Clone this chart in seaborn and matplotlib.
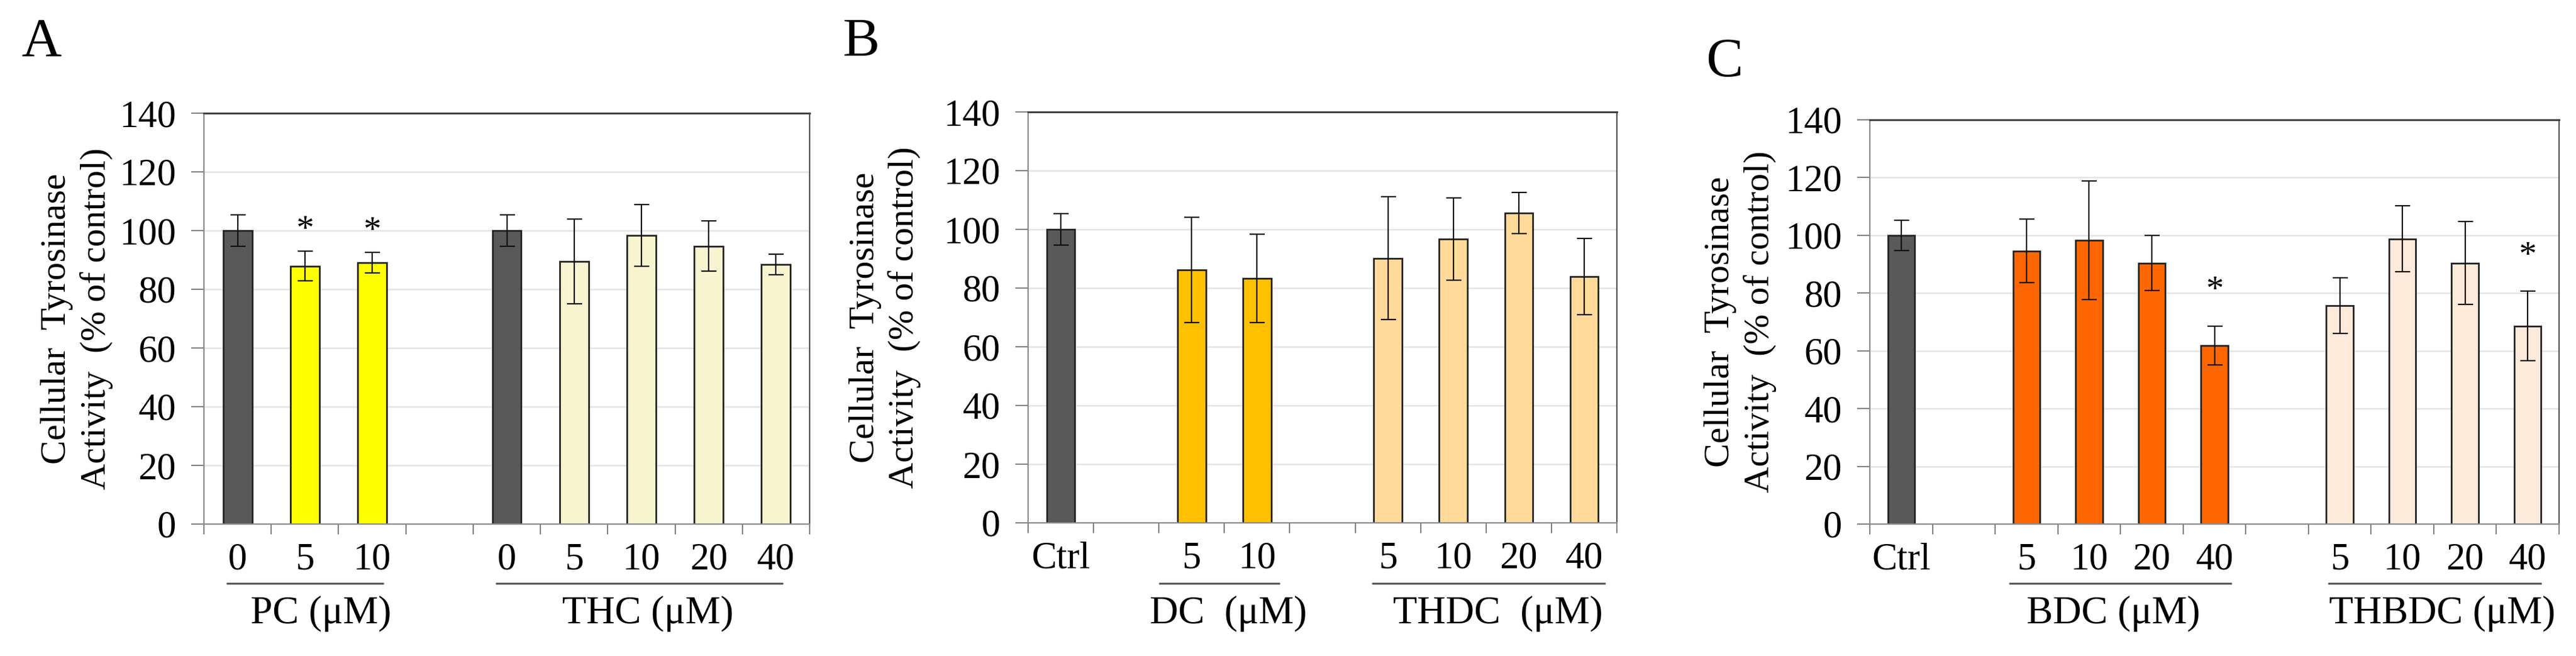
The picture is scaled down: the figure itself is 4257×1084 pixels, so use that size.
import numpy as np
import pandas as pd
import matplotlib
matplotlib.use("Agg")
import matplotlib.pyplot as plt
import matplotlib.transforms as mtransforms
import seaborn as sns

# ---- data ----
# panel A
pc_doses = ['0', '5', '10']
pc_mean = [100.0, 87.9, 89.0]
pc_sd = [5.3, 5.0, 3.5]
thc_doses = ['0', '5', '10', '20', '40']
thc_mean = [100.0, 89.5, 98.4, 94.7, 88.5]
thc_sd = [5.3, 14.5, 10.5, 8.5, 3.5]

# panel B
ctrl_mean = 100.0
ctrl_sd = 5.3
dc_doses = ['5', '10']
dc_mean = [86.2, 83.3]
dc_sd = [18.0, 15.0]
thdc_doses = ['5', '10', '20', '40']
thdc_mean = [90.2, 96.7, 105.6, 83.9]
thdc_sd = [21.0, 14.0, 7.0, 13.0]

# panel C
bdc_doses = ['5', '10', '20', '40']
bdc_mean = [94.6, 98.3, 90.4, 61.9]
bdc_sd = [11.0, 20.5, 9.5, 6.7]
thbdc_doses = ['5', '10', '20', '40']
thbdc_mean = [75.7, 98.8, 90.4, 68.6]
thbdc_sd = [9.7, 11.5, 14.3, 12.0]

# significance marks (group, dose)
stars = [('PC', '5'), ('PC', '10'), ('BDC', '40'), ('THBDC', '40')]

colors = {'ctrl': '#595959', 'PC': '#FFFF00', 'THC': '#F6F5CF',
          'DC': '#FFC000', 'THDC': '#FFDA9A', 'BDC': '#FF6600', 'THBDC': '#FDEADA'}

plt.rcParams['font.family'] = ['Liberation Serif', 'DejaVu Serif']
plt.rcParams['mathtext.default'] = 'regular'

W, H = 4257, 1084
fig = plt.figure(figsize=(W / 100, H / 100), dpi=100)


def px_axes(left, top, right, bottom):
    return fig.add_axes([left / W, 1 - bottom / H, (right - left) / W, (bottom - top) / H])


def build(groups):
    # groups: list of (group name, doses, means, sds, color key); None -> empty slot
    rows, order, ticklabels = [], [], []
    for g in groups:
        if g is None:
            order.append(f'gap{len(order)}')
            ticklabels.append('')
            continue
        name, doses, means, sds, ckey = g
        for d, m, s in zip(doses, means, sds):
            key = f'{name}|{d}'
            rows.append({'cat': key, 'val': m, 'sd': s, 'color': colors[ckey]})
            order.append(key)
            ticklabels.append(d)
    return pd.DataFrame(rows), order, ticklabels


def draw_panel(ax, df, order, ticklabels, underlines, ylab_x, star_gap):
    pal = dict(zip(df['cat'], df['color']))
    sns.barplot(data=df, x='cat', y='val', hue='cat', order=order, hue_order=list(df['cat']),
                palette=pal, saturation=1, legend=False, width=0.43, errorbar=None,
                edgecolor='#222222', linewidth=2, ax=ax, zorder=2)
    pos = [order.index(c) for c in df['cat']]
    ax.errorbar(pos, df['val'], yerr=df['sd'], fmt='none', ecolor='#111111',
                elinewidth=1.6, capsize=9, capthick=1.6, zorder=3)

    for grp, dose in stars:
        key = f'{grp}|{dose}'
        if key in order:
            r = df[df['cat'] == key].iloc[0]
            ax.text(order.index(key), r['val'] + r['sd'] + star_gap, '*', ha='center',
                    va='center', fontsize=42, zorder=4)

    ax.set_ylim(0, 140)
    ax.set_xlim(-0.5, len(order) - 0.5)
    ax.set_yticks(np.arange(0, 141, 20))
    ax.set_xticks(range(len(order)))
    ax.set_xticklabels(ticklabels)
    ax.set_xticks(np.arange(-0.5, len(order), 1.0), minor=True)
    ax.tick_params(axis='x', which='major', length=0, pad=22, labelsize=45)
    ax.tick_params(axis='x', which='minor', length=12, width=1.5, color='#808080', direction='out')
    ax.tick_params(axis='y', length=15, width=1.5, color='#808080', pad=18, labelsize=45,
                   direction='out')
    ax.set_xlabel('')
    ax.yaxis.grid(True, color='#e4e4e4', lw=1.8)
    ax.set_axisbelow(True)
    for s in ['left', 'bottom']:
        ax.spines[s].set_color('#8a8a8a')
        ax.spines[s].set_linewidth(1.6)
    ax.spines['top'].set_color('#404040')
    ax.spines['top'].set_linewidth(2.2)
    ax.spines['right'].set_color('#505050')
    ax.spines['right'].set_linewidth(1.6)

    ax.set_ylabel('Cellular  Tyrosinase\nActivity  (% of control)', fontsize=43,
                  linespacing=1.25, va='center')
    ax.yaxis.set_label_coords(ylab_x, 0.5)

    tr = mtransforms.blended_transform_factory(ax.transData, fig.transFigure)
    for label, x0, x1, xc in underlines:
        ax.plot([x0, x1], [1 - 964 / H, 1 - 964 / H], color='#595959', lw=2.3,
                transform=tr, clip_on=False, solid_capstyle='butt')
        ax.text(xc, 1 - 1014 / H, label, ha='center', va='center', fontsize=47,
                transform=tr)


# panel A
axA = px_axes(337, 187, 1338, 866)
dfA, ordA, tlA = build([('PC', pc_doses, pc_mean, pc_sd, 'PC'), None,
                        ('THC', thc_doses, thc_mean, thc_sd, 'THC')])
dfA.loc[dfA['cat'].isin(['PC|0', 'THC|0']), 'color'] = colors['ctrl']
draw_panel(axA, dfA, ordA, tlA,
           [('PC (μM)', -0.17, 2.17, 1.24), ('THC (μM)', 3.83, 8.1, 6.1)], -0.21, 7)

# panel B
axB = px_axes(1699, 185, 2672, 864)
dfB, ordB, tlB = build([('Ctrl', ['Ctrl'], [ctrl_mean], [ctrl_sd], 'ctrl'), None,
                        ('DC', dc_doses, dc_mean, dc_sd, 'DC'), None,
                        ('THDC', thdc_doses, thdc_mean, thdc_sd, 'THDC')])
draw_panel(axB, dfB, ordB, tlB,
           [('DC  (μM)', 1.5, 3.35, 2.56), ('THDC  (μM)', 4.75, 8.32, 6.68)], -0.243, 7)

# panel C
axC = px_axes(3090, 198, 4229, 866)
dfC, ordC, tlC = build([('Ctrl', ['Ctrl'], [ctrl_mean], [ctrl_sd], 'ctrl'), None,
                        ('BDC', bdc_doses, bdc_mean, bdc_sd, 'BDC'), None,
                        ('THBDC', thbdc_doses, thbdc_mean, thbdc_sd, 'THBDC')])
draw_panel(axC, dfC, ordC, tlC,
           [('BDC (μM)', 1.72, 5.28, 3.39), ('THBDC (μM)', 6.81, 10.22, 8.64)], -0.188, 12)

# panel letters
fig.text(68 / W, 1 - 71 / H, 'A', fontsize=66, ha='center', va='center')
fig.text(1423 / W, 1 - 71 / H, 'B', fontsize=66, ha='center', va='center')
fig.text(2850 / W, 1 - 104 / H, 'C', fontsize=66, ha='center', va='center')

fig.savefig('out.png', dpi=100, facecolor='white')
